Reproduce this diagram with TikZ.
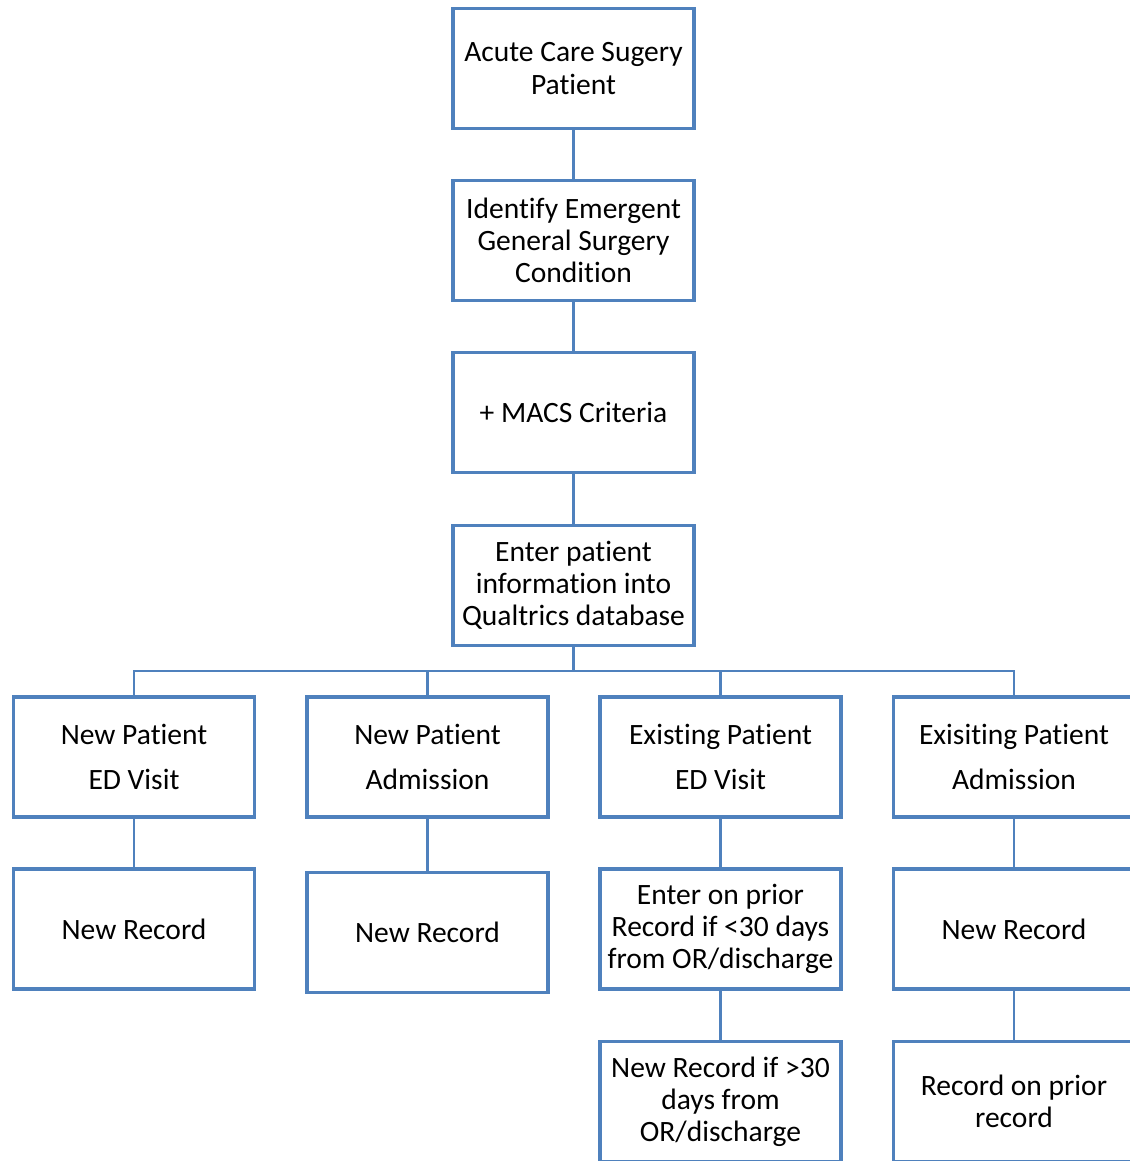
\documentclass[tikz,border=0pt]{standalone}
\usepackage{fontspec}
\setmainfont{Carlito}[Ligatures=NoCommon]
\usepackage{tikz}
\definecolor{boxblue}{HTML}{4F81BD}

\begin{document}
\begin{tikzpicture}[x=0.02cm, y=-0.02cm,
    stepbox/.style={draw=boxblue, line width=1.9pt, fill=white, rectangle,
      minimum width=4.82cm, minimum height=2.4cm, inner sep=1pt, align=center,
      font=\fontsize{16.8}{18.3}\selectfont},
    link/.style={draw=boxblue, line width=1.5pt}]
          \useasboundingbox (0,0) rectangle (1130,1161);
          % main column
          \node[stepbox] (acs) at (573.5,68.5) {Acute Care Sugery\\Patient};
          \node[stepbox] (ident) at (573.5,240.5) {Identify Emergent\\General Surgery\\Condition};
          \node[stepbox] (macs) at (573.5,412.5) {+ MACS Criteria};
          \node[stepbox] (enter) at (573.5,585.5) {Enter patient\\information into\\Qualtrics database};
          % patient types
          \node[stepbox] (npED) at (134,757) {New Patient\\[7.2pt]ED Visit};
          \node[stepbox] (npAdm) at (427.5,757) {New Patient\\[7.2pt]Admission};
          \node[stepbox] (epED) at (720.5,757) {Existing Patient\\[7.2pt]ED Visit};
          \node[stepbox] (epAdm) at (1014,757) {Exisiting Patient\\[7.2pt]Admission};
          % records
          \node[stepbox] (nrecA) at (134,929) {New Record};
          \node[stepbox] (nrecB) at (427.5,932.5) {New Record};
          \node[stepbox] (prior) at (720.5,929) {Enter on prior\\Record if <30 days\\from OR/discharge};
          \node[stepbox] (nrecC) at (1014,929) {New Record};
          \node[stepbox] (later) at (720.5,1101.5) {New Record if >30\\days from\\OR/discharge};
          \node[stepbox] (onprior) at (1014,1101.5) {Record on prior\\record};
          \coordinate (bus) at (573.5,671);
          \draw[link] (acs) -- (ident);
          \draw[link] (ident) -- (macs);
          \draw[link] (macs) -- (enter);
          \draw[link] (enter) -- (bus);
          \draw[link] (npED.north) |- (bus) -| (epAdm.north);
          \draw[link] (npAdm.north) -- (npAdm.north |- bus);
          \draw[link] (epED.north) -- (epED.north |- bus);
          \draw[link] (npED) -- (nrecA);
          \draw[link] (npAdm) -- (nrecB);
          \draw[link] (epED) -- (prior);
          \draw[link] (epAdm) -- (nrecC);
          \draw[link] (prior) -- (later);
          \draw[link] (nrecC) -- (onprior);
        \end{tikzpicture}
\end{document}
